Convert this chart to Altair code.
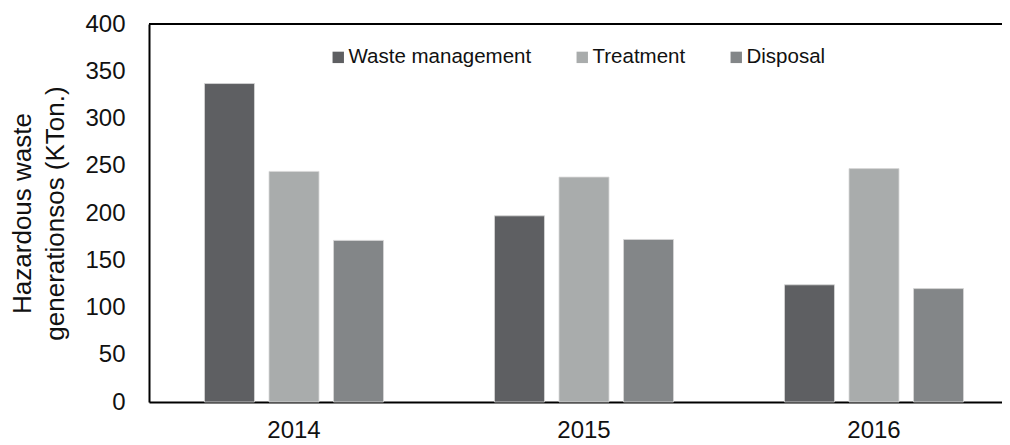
import altair as alt
import pandas as pd

years = ["2014", "2015", "2016"]
series = ["Waste management", "Treatment", "Disposal"]
waste_management = [337, 197, 124]
treatment = [244, 238, 247]
disposal = [171, 172, 120]
colors = ["#5e5f62", "#a9acac", "#838688"]

rows = []
for name, vals in zip(series, [waste_management, treatment, disposal]):
    for y, v in zip(years, vals):
        rows.append({"Year": y, "Series": name, "Value": v})
df = pd.DataFrame(rows)

FONT = "Liberation Sans"

bars = alt.Chart(df).mark_bar(stroke="#d8d8d8", strokeWidth=0.8).encode(
    x=alt.X("Year:N", sort=years,
            scale=alt.Scale(range=[0, 870], paddingInner=0, paddingOuter=0),
            axis=alt.Axis(title=None, labelAngle=0, ticks=False, labelFontSize=24,
                          labelFont=FONT, labelColor="#111111", labelPadding=16,
                          domainColor="#000000", domainWidth=2, grid=False)),
    xOffset=alt.XOffset("Series:N", sort=series,
                        scale=alt.Scale(paddingInner=0.225, paddingOuter=0.86)),
    y=alt.Y("Value:Q", scale=alt.Scale(domain=[0, 400]),
            axis=alt.Axis(title=["Hazardous waste", "generationsos (KTon.)"],
                          values=list(range(0, 401, 50)), ticks=False, grid=False,
                          labelFontSize=24, labelFont=FONT, labelColor="#111111",
                          labelPadding=24, titleFontSize=26, titleFont=FONT,
                          titleFontWeight="normal", titleColor="#111111",
                          titlePadding=16, titleLineHeight=33,
                          domainColor="#000000", domainWidth=2)),
    color=alt.Color("Series:N", sort=series,
                    scale=alt.Scale(domain=series, range=colors),
                    legend=alt.Legend(title=None, orient="none", direction="horizontal",
                                      legendX=179, legendY=23, symbolType="square",
                                      symbolSize=130, symbolStrokeWidth=0,
                                      labelFontSize=20.5, labelFont=FONT,
                                      labelColor="#111111", labelOffset=0,
                                      columnPadding=40, labelLimit=400)),
)

top_line = alt.Chart(pd.DataFrame({"v": [400]})).mark_rule(
    color="#000000", strokeWidth=2).encode(
    y=alt.Y("v:Q"), x=alt.value(0), x2=alt.value(900))

chart = alt.layer(bars, top_line).properties(
    width=853, height=378,
    autosize=alt.AutoSizeParams(type="none"),
    padding={"left": 141, "top": 16, "right": 0, "bottom": 40},
).configure_view(stroke=None).configure(font=FONT)

chart.save("out.html", embed_options={"renderer": "svg", "actions": False})
